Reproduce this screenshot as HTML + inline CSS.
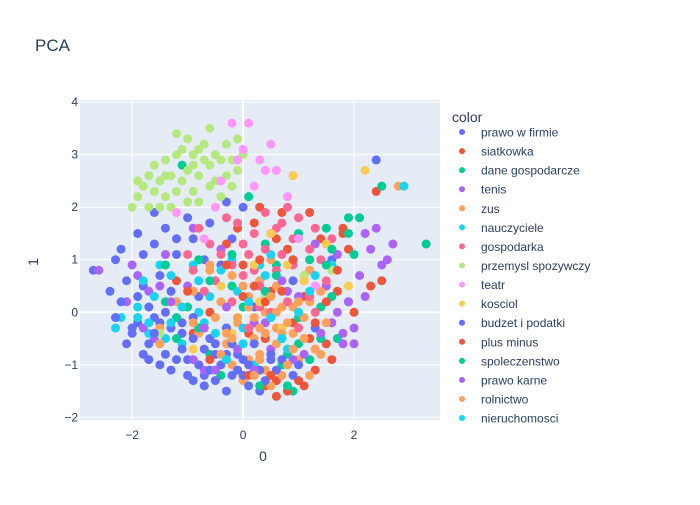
<!DOCTYPE html>
<html><head><meta charset="utf-8"><style>
body{margin:0;background:#fff;font-family:"Liberation Sans",sans-serif}
svg text{font-family:"Liberation Sans",sans-serif;fill:#2a3f5f}
</style></head><body>
<svg id="chart" width="700" height="500">
<rect width="700" height="500" fill="#fff"/>
<text x="35" y="51" font-size="17">PCA</text>
<rect x="80" y="100" width="360" height="320" fill="#e5ecf6"/>
<g id="grid"></g><g id="points" clip-path="url(#clip)"></g><g id="ticks"></g>
<defs><clipPath id="clip"><rect x="80" y="100" width="360" height="320"/></clipPath></defs>
<text x="263" y="461" font-size="14" text-anchor="middle">0</text>
<text x="38" y="262" font-size="14" text-anchor="middle" transform="rotate(-90 38 262)">1</text>
<text x="452" y="122" font-size="14">color</text>
<g id="legend"></g>
</svg>
<script>
const categories=["prawo w firmie","siatkowka","dane gospodarcze","tenis","zus","nauczyciele","gospodarka","przemysl spozywczy","teatr","kosciol","budzet i podatki","plus minus","spoleczenstwo","prawo karne","rolnictwo","nieruchomosci"];
const colors=["#636efa","#EF553B","#00cc96","#ab63fa","#FFA15A","#19d3f3","#FF6692","#B6E880","#FF97FF","#FECB52","#636efa","#EF553B","#00cc96","#ab63fa","#FFA15A","#19d3f3"];
const xTicks=[-2,0,2];
const yTicks=[-2,-1,0,1,2,3,4];
const seriesPoints=[
"-1.8,0.5 -1.5,-0.2 -1.2,1.1 -0.8,0.3 -0.5,-0.6 -0.2,1.4 0.2,0.1 0.5,-0.9 0.9,0.6 1.3,-0.3 1.6,1.0 -2.3,1.0 -1.0,-0.9 0.0,2.0 2.4,2.9 1.9,0.2 -1.6,1.3 -0.4,0.9 -2.1,0.6 -1.9,1.5 -1.4,1.6 -1.7,0.1 -2.0,-0.4 -1.3,0.4 -0.9,1.4 -0.6,1.7 -0.3,2.1 -1.1,-0.2 -0.7,-1.2 0.3,-1.5 -2.7,0.8 -1.6,1.9 -2.2,1.2 -1.8,1.1 -1.5,0.7 -1.2,1.4 -1.0,1.8 -0.7,1.0 -2.4,0.4 -1.9,-0.2",
"-1.2,0.6 -0.6,0.0 0.0,0.9 0.4,-0.5 0.8,1.2 1.1,0.3 1.5,-0.6 0.2,1.7 -0.9,-0.4 2.4,2.3 1.8,1.5 0.6,-1.3 2.3,0.5 -0.3,1.3 1.2,1.9 0.5,0.4 0.1,-0.4 0.9,-0.2 1.4,1.4 -0.1,1.6 0.7,1.9 1.7,0.4 0.3,2.0 1.0,-1.3 0.4,-1.4 1.6,-0.9 1.3,-1.1 2.0,0.0 1.9,1.2 0.6,1.4",
"-1.4,0.2 -0.8,1.0 -0.3,-0.3 0.3,0.6 0.7,-1.0 1.0,1.5 1.4,0.1 -1.1,2.8 0.1,2.2 2.5,2.4 3.3,1.3 1.7,-0.5 -0.6,-0.8 0.9,-1.5 2.0,1.1 0.6,0.9 1.2,1.0 -0.2,0.5 1.5,1.6 0.8,-0.8 -1.0,0.1 1.9,1.8 0.4,1.3 1.6,0.3 -1.2,-0.1 -0.4,-1.2 1.0,-0.1",
"-2.0,0.9 -1.6,-0.5 -1.0,0.5 -0.4,1.2 0.2,-0.2 0.8,0.4 1.3,1.3 1.9,0.2 2.3,1.2 2.7,1.3 -0.7,-1.1 0.5,-0.7 1.6,-0.2 2.1,0.7 -2.6,0.8 2.0,-0.3 2.4,1.6 2.2,0.3 1.8,-0.6 -1.4,1.1 -1.9,0.7 -0.9,1.6 2.5,0.9 1.5,0.5 0.9,1.0 2.2,1.5 1.7,1.1 2.0,-0.6 -1.7,0.4 -2.1,0.2",
"-1.5,-0.3 -0.9,0.4 -0.3,-0.6 0.1,0.3 0.4,-1.1 0.6,0.5 0.9,-0.4 1.2,0.8 -0.1,-0.2 0.3,-0.8 0.7,0.1 1.0,-0.9 1.4,0.4 2.8,2.4 0.0,-1.3 0.5,1.0 0.2,-0.5 0.6,-0.3 0.8,-0.7 0.4,0.0 0.1,-0.9 0.9,0.1 1.1,-0.1 0.3,0.6 -0.2,0.7 0.7,-1.2 1.3,-0.7 -0.6,0.8 0.5,-1.4 -0.4,0.2 -0.8,-0.4 -0.5,-0.1 -0.2,-1.0 1.5,-0.2 1.2,0.2 -1.2,0.2",
"-1.9,-0.1 -1.3,0.7 -0.7,-0.2 -0.1,0.4 0.5,1.1 1.0,0.0 -1.6,0.3 -0.4,0.8 1.6,0.9 2.9,2.4 -2.0,-0.3 0.2,-1.0 -1.1,-0.6 0.8,-0.7 -0.9,0.9 -1.5,0.9 -0.2,1.0 0.0,-0.3 -1.8,0.6 -2.2,-0.1 0.3,0.9 1.3,0.7 -0.6,0.3 -1.4,-0.5 -1.7,-0.4 -0.8,0.0",
"-1.0,1.1 -0.5,0.6 0.0,1.3 0.3,0.5 0.6,1.6 0.9,0.9 1.2,1.2 0.4,1.9 -0.2,0.2 0.8,0.2 1.5,0.6 0.1,-0.3 0.5,0.0 -0.8,1.6 1.0,1.8 0.2,0.8 0.7,1.1 -0.3,1.8 1.3,0.0 0.0,0.7 0.4,1.2 0.6,0.8 0.9,1.4 1.1,0.6 0.2,1.5 -0.4,1.1 0.7,1.7 1.4,1.0 0.5,0.3 -0.1,1.7 0.3,0.1 1.0,-0.3 -0.6,1.3 0.8,2.0 1.2,0.3 -0.2,0.9 0.5,1.5 -0.9,0.8 -0.7,0.4 1.6,1.4 1.3,1.6 0.1,1.1",
"-1.8,2.4 -1.5,2.0 -1.3,2.6 -1.1,3.1 -0.9,2.3 -0.7,2.9 -0.5,2.5 -0.3,3.2 -0.1,2.7 -1.6,2.8 -1.2,3.4 -0.8,2.1 -0.4,2.2 -2.0,2.0 -1.0,2.7 -0.6,3.5 0.0,3.0 -1.4,2.2 1.1,0.7 0.4,0.3 -1.7,2.6 -1.9,2.2 -1.4,2.9 -1.2,2.3 -1.0,2.1 -0.9,3.0 -0.8,2.6 -0.6,2.8 -0.4,2.9 -0.2,2.4 -0.7,3.2 -1.1,2.5 -1.5,2.5 -1.3,2.0 -0.5,3.0 -0.3,2.6 -1.6,2.3 -0.9,2.8 -1.7,2.0 -0.1,3.3 -1.2,3.0 -0.6,2.4 1.6,0.8 -1.5,-0.4 -1.0,3.3 -0.8,3.1 -1.4,2.6 -1.9,2.5 -0.2,2.9",
"-0.2,3.6 0.0,3.1 0.3,2.9 0.6,2.7 0.9,2.6 -0.4,2.5 0.2,2.4 0.5,3.2 -1.2,1.9 1.0,1.4 1.3,0.5 -0.7,1.4 0.1,3.6 0.4,2.7 -0.1,2.9 0.8,2.2 -0.5,2.0",
"-0.4,0.5 0.2,0.9 0.7,-0.3 1.1,0.6 -0.9,-0.7 0.5,1.5 1.5,1.3 0.9,2.6 2.2,2.7 1.9,0.5 0.3,0.2 -0.2,-0.4 0.8,0.9",
"-2.0,-0.3 -1.7,-0.6 -1.4,-0.8 -1.1,-0.4 -0.8,-1.0 -0.5,-0.8 -0.2,-1.2 0.1,-1.0 0.4,-1.3 -1.6,-0.1 -1.2,-0.9 -0.6,-0.5 -0.3,-1.5 0.2,-0.6 0.6,-1.1 -0.9,-0.1 1.0,-1.0 -2.2,0.2 -1.9,0.3 -0.1,-0.8 -1.8,-0.8 -1.5,-1.0 -1.0,-1.2 -0.7,-0.7 -0.4,-1.0 -0.1,-1.1 0.3,-1.1 0.7,-0.9 -1.3,-0.3 -0.9,-0.5 -0.5,-1.3 0.0,-0.9 -2.3,-0.1 -1.6,-0.4 -0.2,-0.6 0.5,-0.8 -1.1,-0.7 -0.7,-1.4 0.1,-1.4 0.9,-1.2 -1.4,0.0 -0.3,-0.3 -1.3,-1.1 -0.9,-1.3 -0.6,-1.1 -0.3,-0.8 0.0,-1.2 -1.7,-0.9 -2.1,-0.6",
"-1.0,0.4 -0.3,0.9 0.4,0.2 0.9,1.0 1.3,-0.2 1.7,0.8 0.6,-1.6 1.1,-1.4 0.2,0.5 -0.6,-0.9 2.5,0.6 1.8,1.6 0.5,-1.2 0.1,-1.2 0.8,-1.5 1.5,0.2 0.3,1.0 1.2,-0.5 0.7,0.4 0.0,0.3",
"-1.2,-0.5 -0.6,0.6 0.0,0.1 0.6,0.7 1.0,-0.6 1.5,0.9 -0.2,1.1 1.9,1.5 0.3,-1.4 -1.4,0.9 2.1,1.8 0.8,-1.4 1.2,-0.9 0.4,0.4 -0.8,-0.3 1.6,1.2 1.4,-0.5 0.7,-0.5",
"-1.3,0.2 -0.7,-0.3 -0.1,-0.7 0.4,-0.2 0.9,-0.9 1.4,-0.4 -0.3,0.1 0.7,0.6 1.7,0.0 2.6,1.0 -0.9,-0.9 -1.5,0.5 0.2,-1.1 1.0,0.3 -0.5,-1.1 1.8,-0.4 1.1,-0.8 -1.8,-0.3",
"-0.9,-0.2 -0.3,-0.4 0.2,-0.1 0.6,-0.6 1.0,0.2 1.4,-0.8 0.0,0.5 0.5,0.3 -0.6,0.9 0.8,-0.2 1.2,-1.2 0.3,-0.9 0.4,-0.4 0.7,-0.4 0.9,-0.7 0.1,0.1 -0.1,-0.1 0.6,0.0 1.1,-0.5 -0.4,-0.8 0.2,-1.2 -1.5,-0.6 0.3,-0.3 0.8,-1.0 -0.2,-0.5",
"-1.7,-0.2 -1.1,0.1 -0.5,-0.4 0.1,0.2 0.7,-0.5 1.2,0.4 -2.3,-0.3 0.4,0.7 -1.3,-0.2 -0.8,0.6 0.0,-0.6 0.5,-0.1 -1.9,0.1 -0.3,-0.9"
];
const NS="http://www.w3.org/2000/svg";
const X0=-2.94,X1=3.55,Y0=-2.05,Y1=4.04,PL=80,PT=100,PW=360,PH=320;
function xs(v){return PL+(v-X0)/(X1-X0)*PW}
function ys(v){return PT+PH-(v-Y0)/(Y1-Y0)*PH}
const grid=document.getElementById('grid'),ticks=document.getElementById('ticks');
xTicks.forEach(t=>{
 const l=document.createElementNS(NS,'line');
 
 
 l.setAttribute('x1',xs(t));l.setAttribute('x2',xs(t));l.setAttribute('y1',PT);l.setAttribute('y2',PT+PH);
 l.setAttribute('stroke','#fff');l.setAttribute('stroke-width',t===0?2:1);grid.appendChild(l);
 const tx=document.createElementNS(NS,'text');
 
 
 tx.setAttribute('x',xs(t));tx.setAttribute('y',439);tx.setAttribute('font-size','12');tx.setAttribute('text-anchor','middle');
 tx.textContent=t<0?'\u2212'+(-t):t;ticks.appendChild(tx);
});
yTicks.forEach(t=>{
 const l=document.createElementNS(NS,'line');
 
 
 l.setAttribute('x1',PL);l.setAttribute('x2',PL+PW);l.setAttribute('y1',ys(t));l.setAttribute('y2',ys(t));
 l.setAttribute('stroke','#fff');l.setAttribute('stroke-width',t===0?2:1);grid.appendChild(l);
 const tx=document.createElementNS(NS,'text');
 
 
 tx.setAttribute('x',78);tx.setAttribute('y',ys(t)+4);tx.setAttribute('font-size','12');tx.setAttribute('text-anchor','end');
 tx.textContent=t<0?'\u2212'+(-t):t;ticks.appendChild(tx);
});
const pg=document.getElementById('points');
seriesPoints.forEach((s,i)=>{
 s.split(' ').forEach(p=>{
  const [a,b]=p.split(',').map(Number);
  const c=document.createElementNS(NS,'circle');
  
  
  c.setAttribute('cx',xs(a));c.setAttribute('cy',ys(b));c.setAttribute('r',4.5);c.setAttribute('fill',colors[i]);
  pg.appendChild(c);
 });
});
const lg=document.getElementById('legend');
categories.forEach((n,i)=>{
 const y=132+i*19.07;
 if(y>425)return;
 const c=document.createElementNS(NS,'circle');
 
 
 c.setAttribute('cx',462);c.setAttribute('cy',y);c.setAttribute('r',3);c.setAttribute('fill',colors[i]);lg.appendChild(c);
 const t=document.createElementNS(NS,'text');
 
 
 t.setAttribute('x',481);t.setAttribute('y',y+4.5);t.setAttribute('font-size','12');t.textContent=n;lg.appendChild(t);
});
</script>
</body></html>
